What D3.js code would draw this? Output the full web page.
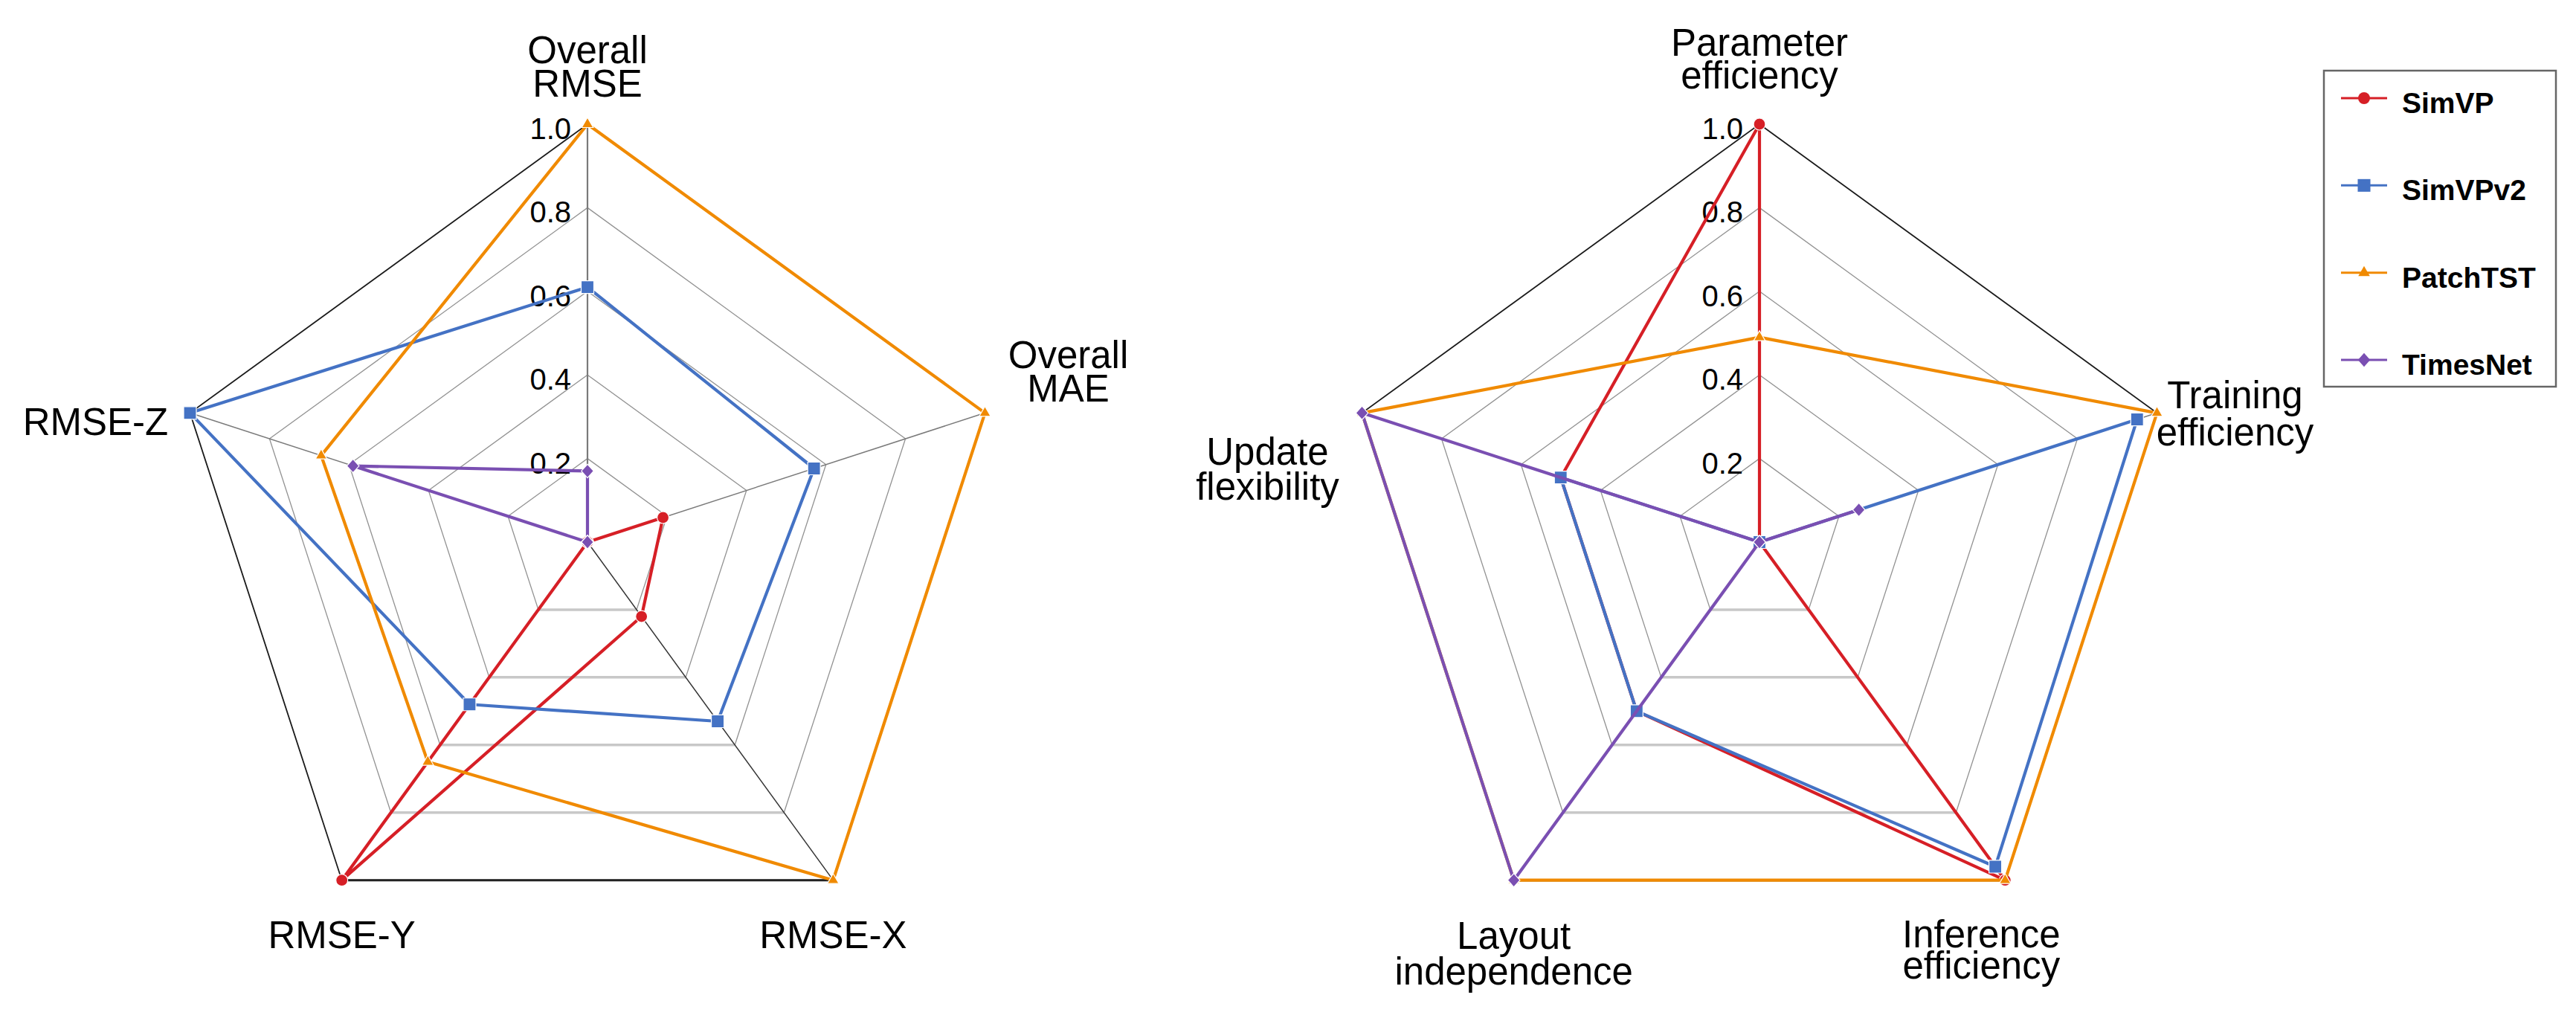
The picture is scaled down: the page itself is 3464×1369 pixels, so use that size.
<!DOCTYPE html>
<html>
<head>
<meta charset="utf-8">
<script src="https://cdn.jsdelivr.net/npm/d3@7"></script>
<style>
  html, body { margin: 0; padding: 0; background: #ffffff; }
  svg { display: block; }
  text { font-family: "Liberation Sans", Arial, Helvetica, sans-serif; fill: #000; }
</style>
</head>
<body>
<svg id="chart" width="3464" height="1369"></svg>
<script>
// ---------------- DATA ----------------
const seriesNames = ["SimVP", "SimVPv2", "PatchTST", "TimesNet"];

const leftAxes = [["Overall", "RMSE"], ["Overall", "MAE"], ["RMSE-X"], ["RMSE-Y"], ["RMSE-Z"]];
const rightAxes = [["Parameter", "efficiency"], ["Training", "efficiency"], ["Inference", "efficiency"], ["Layout", "independence"], ["Update", "flexibility"]];

// left radar (error metrics, normalised)
const leftSimVP    = [0.00, 0.19, 0.22, 1.00, 0.00];
const leftSimVPv2  = [0.61, 0.57, 0.53, 0.48, 1.00];
const leftPatchTST = [1.00, 1.00, 1.00, 0.65, 0.67];
const leftTimesNet = [0.17, 0.00, 0.00, 0.00, 0.59];

// right radar (efficiency / flexibility)
const rightSimVP    = [1.00, 0.00, 1.00, 0.50, 0.50];
const rightSimVPv2  = [0.00, 0.95, 0.96, 0.50, 0.50];
const rightPatchTST = [0.49, 1.00, 1.00, 1.00, 1.00];
const rightTimesNet = [0.00, 0.25, 0.00, 1.00, 1.00];

const tickValues = [0.2, 0.4, 0.6, 0.8, 1.0];
const tickLabels = ["0.2", "0.4", "0.6", "0.8", "1.0"];

// ---------------- STYLE ----------------
const colors = ["#d61f26", "#4472c4", "#f08a00", "#7a4fb2"];
const W = 3464, H = 1369;
const R = 562;
const CY = 729;

// label placement offsets relative to each axis end point: [dx, dy(first baseline), lineGap]
const leftLabelOffsets  = [[0, -82, 45], [112, -60, 45], [0, 91, 45], [0, 91, 45], [-127, 30, 45]];
const rightLabelOffsets = [[0, -92, 44], [105, -6, 50], [-32, 90, 42], [0, 92, 48], [-127, 70, 47]];

const svg = d3.select("#chart");
svg.append("rect").attr("width", W).attr("height", H).attr("fill", "#fff");

// custom diamond symbol (near-equal diagonals)
const symbolRhombus = {
  draw(ctx, size) {
    const h = Math.sqrt(size) * 0.75, w = h * 0.9;
    ctx.moveTo(0, -h); ctx.lineTo(w, 0); ctx.lineTo(0, h); ctx.lineTo(-w, 0); ctx.closePath();
  }
};
const symbolTypes = [d3.symbolCircle, d3.symbolSquare, d3.symbolTriangle, symbolRhombus];
const symbolSizes = [200, 290, 105, 150];

function drawRadar(cx, axes, dataSets, labelOffsets) {
  const g = svg.append("g").attr("transform", `translate(${cx},${CY})`);
  const n = axes.length;
  const r = d3.scaleLinear().domain([0, 1]).range([0, R]);
  const angle = d3.scaleLinear().domain([0, n]).range([0, 2 * Math.PI]);
  const pt = (i, v) => d3.pointRadial(angle(i), r(v));

  const ringLine = d3.lineRadial()
    .angle((d, i) => angle(i))
    .radius(d => r(d))
    .curve(d3.curveLinearClosed);

  // inner grid rings
  tickValues.slice(0, -1).forEach(t => {
    g.append("path")
      .attr("d", ringLine(d3.range(n).map(() => t)))
      .attr("fill", "none").attr("stroke", "#929292").attr("stroke-width", 1.3);
    // bottom edge (rendered lighter & thicker in the original)
    const a = pt(2, t), b = pt(3, t);
    g.append("line").attr("x1", a[0]).attr("y1", a[1]).attr("x2", b[0]).attr("y2", b[1])
      .attr("stroke", "#c8c8c8").attr("stroke-width", 3.5);
  });
  // spokes
  d3.range(n).forEach(i => {
    const p = pt(i, 1);
    g.append("line").attr("x1", 0).attr("y1", 0).attr("x2", p[0]).attr("y2", p[1])
      .attr("stroke", i === 2 ? "#333" : "#7a7a7a").attr("stroke-width", i === 0 ? 2.2 : 1.5);
  });
  // outer ring
  g.append("path")
    .attr("d", ringLine(d3.range(n).map(() => 1)))
    .attr("fill", "none").attr("stroke", "#1a1a1a").attr("stroke-width", 1.8);
  {
    const a = pt(2, 1), b = pt(3, 1);
    g.append("line").attr("x1", a[0]).attr("y1", a[1]).attr("x2", b[0]).attr("y2", b[1])
      .attr("stroke", "#222").attr("stroke-width", 3);
  }

  // tick labels
  g.selectAll("text.tick").data(tickValues).enter().append("text")
    .attr("class", "tick")
    .attr("x", -22)
    .attr("y", d => -r(d) + 20)
    .attr("text-anchor", "end")
    .attr("font-size", 40)
    .text((d, i) => tickLabels[i]);

  // axis labels
  axes.forEach((lines, i) => {
    const p = pt(i, 1);
    const [dx, dy, gap] = labelOffsets[i];
    const t = g.append("text").attr("text-anchor", "middle").attr("font-size", 51);
    lines.forEach((ln, k) => {
      t.append("tspan").attr("x", p[0] + dx).attr("y", p[1] + dy + k * gap).text(ln);
    });
  });

  // series
  const seriesLine = d3.lineRadial()
    .angle((d, i) => angle(i))
    .radius(d => r(d))
    .curve(d3.curveLinearClosed);
  dataSets.forEach((vals, s) => {
    const sg = g.append("g");
    sg.append("path").attr("d", seriesLine(vals))
      .attr("fill", "none").attr("stroke", colors[s]).attr("stroke-width", 4.2)
      .attr("stroke-linejoin", "round");
    sg.selectAll("path.mk").data(vals).enter().append("path")
      .attr("class", "mk")
      .attr("transform", (d, i) => { const p = pt(i, d); return `translate(${p[0]},${p[1]})`; })
      .attr("d", d3.symbol().type(symbolTypes[s]).size(symbolSizes[s]))
      .attr("fill", colors[s]).attr("stroke", "#fff").attr("stroke-width", 1.2);
  });
}

drawRadar(790, leftAxes, [leftSimVP, leftSimVPv2, leftPatchTST, leftTimesNet], leftLabelOffsets);
drawRadar(2366, rightAxes, [rightSimVP, rightSimVPv2, rightPatchTST, rightTimesNet], rightLabelOffsets);

// ---------------- LEGEND ----------------
const legend = svg.append("g");
legend.append("rect").attr("x", 3125).attr("y", 95).attr("width", 312).attr("height", 425)
  .attr("fill", "#fff").attr("stroke", "#666").attr("stroke-width", 2.5);
const ly = d3.scalePoint().domain(seriesNames).range([132, 484]);
seriesNames.forEach((name, s) => {
  const y = ly(name);
  legend.append("line").attr("x1", 3148).attr("x2", 3210).attr("y1", y).attr("y2", y)
    .attr("stroke", colors[s]).attr("stroke-width", 3);
  legend.append("path").attr("transform", `translate(3179,${y})`)
    .attr("d", d3.symbol().type(symbolTypes[s]).size(symbolSizes[s]))
    .attr("fill", colors[s]);
  legend.append("text").attr("x", 3230).attr("y", y + 20)
    .attr("font-size", 39).attr("font-weight", "bold").text(name);
});
</script>
</body>
</html>
